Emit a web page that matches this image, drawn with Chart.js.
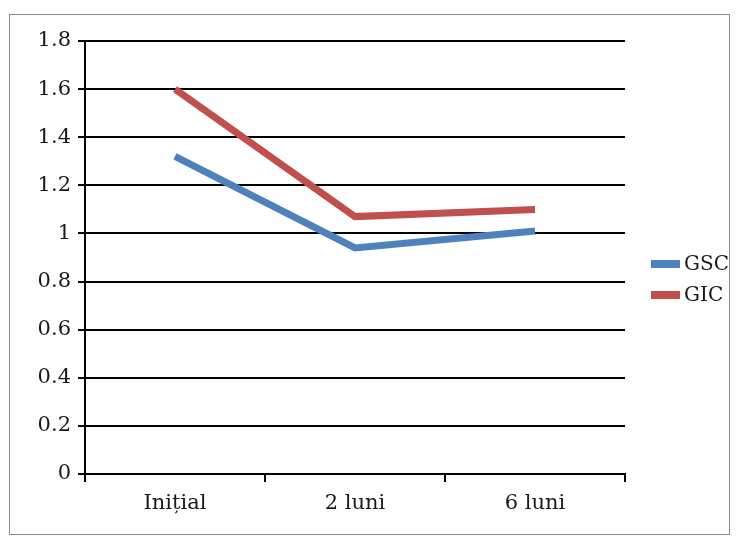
<!DOCTYPE html>
<html>
<head>
<meta charset="utf-8">
<script src="https://cdn.jsdelivr.net/npm/chart.js@4.4.0/dist/chart.umd.min.js"></script>
<style>
  html, body { margin: 0; padding: 0; background: #fff; }
  #wrap { position: relative; width: 740px; height: 538px; }
  #frame { position: absolute; left: 9px; top: 14px; width: 721px; height: 521px; border: 1px solid #8c8c8c; box-sizing: border-box; }
  canvas { position: absolute; left: 0; top: 0; }
</style>
</head>
<body>
<div id="wrap">
  <div id="frame"></div>
  <canvas id="chart" width="740" height="538"></canvas>
</div>
<script>
// date
const categorii = ["Inițial", "2 luni", "6 luni"];
const valoriGSC = [1.32, 0.94, 1.01];
const valoriGIC = [1.60, 1.07, 1.10];
const yMax = 1.8;
const yPas = 0.2;

const culori = { GSC: "#4F81BD", GIC: "#C0504D" };
const fontSerif = "'DejaVu Serif', 'Liberation Serif', serif";

// legenda desenata manual in dreapta
const legendaDreapta = {
  id: "legendaDreapta",
  afterDraw(chart) {
    const ctx = chart.ctx;
    ctx.save();
    ctx.font = "20px " + fontSerif;
    ctx.textBaseline = "middle";
    chart.data.datasets.forEach((ds, i) => {
      const y = 264 + i * 31;
      ctx.fillStyle = ds.borderColor;
      ctx.fillRect(651, y - 4, 29, 8);
      ctx.fillStyle = "#1a1a1a";
      ctx.fillText(ds.label, 684, y + 1);
    });
    ctx.restore();
  }
};

new Chart(document.getElementById("chart"), {
  type: "line",
  data: {
    labels: categorii,
    datasets: [
      { label: "GSC", data: valoriGSC, borderColor: culori.GSC, backgroundColor: culori.GSC, borderWidth: 7, pointRadius: 0, tension: 0, borderCapStyle: "butt" },
      { label: "GIC", data: valoriGIC, borderColor: culori.GIC, backgroundColor: culori.GIC, borderWidth: 7, pointRadius: 0, tension: 0, borderCapStyle: "butt" }
    ]
  },
  options: {
    responsive: false,
    animation: false,
    layout: { padding: { left: 20, top: 41, right: 115, bottom: 0 } },
    plugins: { legend: { display: false }, tooltip: { enabled: false } },
    scales: {
      x: {
        offset: true,
        grid: { offset: true, drawOnChartArea: false, drawTicks: true, tickLength: 8, color: "#000", lineWidth: 2 },
        border: { display: true, color: "#000", width: 2 },
        ticks: { color: "#1a1a1a", font: { family: fontSerif, size: 21 }, padding: 9 },
        afterFit(scale) { scale.height = 64; }
      },
      y: {
        min: 0,
        max: yMax,
        grid: { color: "#000", lineWidth: 2, tickLength: 7 },
        border: { display: true, color: "#000", width: 2 },
        ticks: {
          stepSize: yPas,
          color: "#1a1a1a",
          font: { family: fontSerif, size: 21 },
          padding: 7,
          callback: v => Math.round(v * 10) / 10
        },
        afterFit(scale) { scale.width = 65; }
      }
    }
  },
  plugins: [legendaDreapta]
});
</script>
</body>
</html>
